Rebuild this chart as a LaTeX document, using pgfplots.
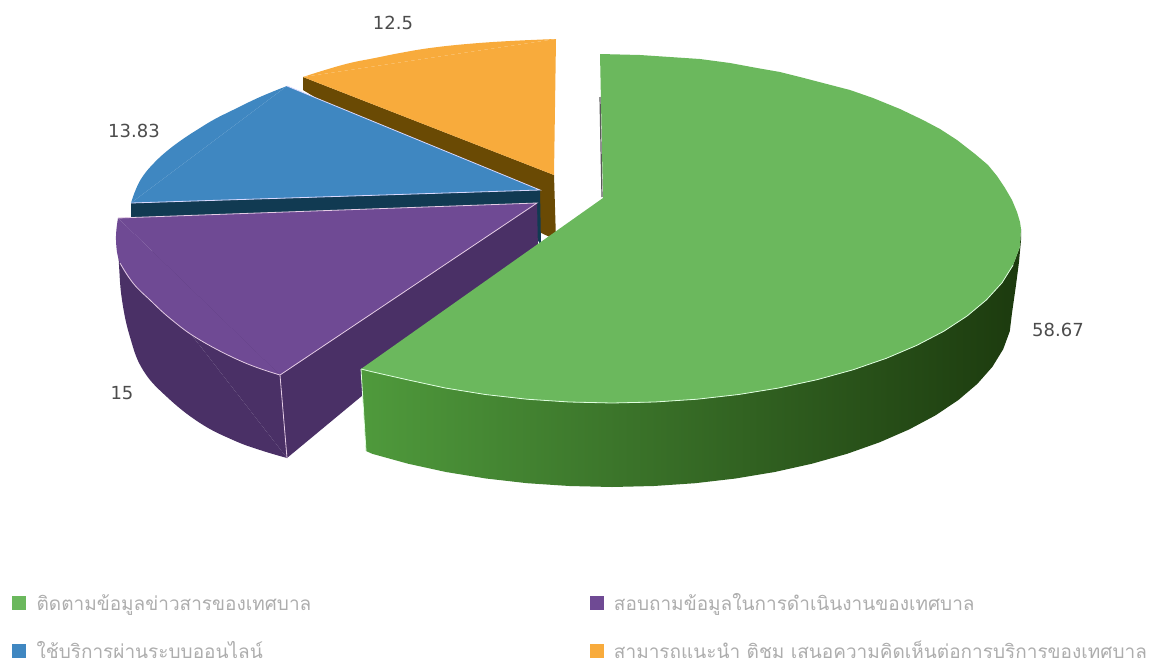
\documentclass[border=0pt]{standalone}
\usepackage{pgfplots}
\pgfplotsset{compat=1.18}
\usepackage{fontspec}
\setmainfont{DejaVu Sans}
\newfontfamily\thaifont[Script=Thai]{Loma}
\definecolor{gTop}{HTML}{6BB85D}
\definecolor{gL}{HTML}{4F9A3C}
\definecolor{gM}{HTML}{35692A}
\definecolor{gR}{HTML}{1C3A0E}
\definecolor{pTop}{HTML}{6F4A94}
\definecolor{pSide}{HTML}{4A3066}
\definecolor{bTop}{HTML}{3F87C1}
\definecolor{bSide}{HTML}{113A52}
\definecolor{oTop}{HTML}{F8AB3C}
\definecolor{oSide}{HTML}{6A4A04}
\begin{document}
\begin{tikzpicture}
\begin{axis}[
  scale only axis, width=1152pt, height=665pt,
  xmin=0, xmax=1152, ymin=0, ymax=665, y dir=reverse,
  hide axis, clip=false, no markers,
  legend columns=2,
  legend cell align=left,
  legend style={at={(axis cs:12,627)}, anchor=west, draw=none, fill=none,
    font=\fontsize{19}{21}\selectfont\thaifont\color{black!32},
    row sep=25pt, column sep=0pt, inner sep=0pt,
    /tikz/column 1/.style={column sep=9pt},
    /tikz/column 3/.style={column sep=9pt}},
  legend image code/.code={\fill[#1] (0pt,-6.5pt) rectangle (13pt,6.5pt);},
]
\path (axis cs:0,0) rectangle (axis cs:1152,665);
% orange
\addplot[draw=none, fill=oSide, forget plot] coordinates {(303,77)(554,175)(556,240)(535,230)(303,90)} --cycle;
\addplot[draw=none, fill=oTop, forget plot] coordinates {(556,39)(303,77)(554,175)} --cycle;
\addplot[draw=none, fill=oTop, forget plot, smooth, tension=0.7] coordinates {(556,39)(510,41)(467,44)(430,48)(400,53)(375,58)(350,63)(325,70)(303,77)};
% blue
\addplot[draw=none, fill=bSide, forget plot] coordinates {(131,203)(540,190)(541,246)(520,207)(131,218)} --cycle;
\addplot[draw=none, fill=bTop, forget plot] coordinates {(287,86)(131,203)(540,190)} --cycle;
\addplot[draw=none, fill=bTop, forget plot, smooth, tension=0.7] coordinates {(287,86)(260,97)(233,110)(215,119)(200,128)(183,139)(167,151)(154,163)(143,176)(136,189)(131,203)};
\addplot[color=blue!15!white, line width=0.8pt, forget plot] coordinates {(287,86)(540,190)(131,203)};
% purple
\addplot[draw=none, fill=pSide, forget plot] coordinates {(280,375)(287,458)(538,250)(537,203)} --cycle;
\addplot[draw=none, fill=pSide, forget plot] coordinates {(118,240)(287,458)(280,375)(300,300)} --cycle;
\addplot[draw=none, fill=pSide, forget plot, smooth, tension=0.7] coordinates {(118,240)(119,265)(122,300)(130,337)(143,370)(167,397)(200,423)(233,440)(260,450)(287,458)};
\addplot[draw=none, fill=pTop, forget plot] coordinates {(118,218)(280,375)(537,203)} --cycle;
\addplot[draw=none, fill=pTop, forget plot, smooth, tension=0.7] coordinates {(118,218)(116,240)(120,263)(133,283)(150,300)(172,320)(200,340)(243,362)(280,375)};
\addplot[color=violet!20!white, line width=0.8pt, forget plot] coordinates {(118,218)(537,203)(280,375)};
\addplot[color=violet!20!white, line width=0.8pt, forget plot, smooth, tension=0.7] coordinates {(120,263)(133,283)(150,300)(172,320)(200,340)(243,362)(280,375)};
\addplot[color=violet!20!white, line width=0.8pt, forget plot] coordinates {(280,375)(287,458)};
% green
\addplot[draw=none, left color=gL, middle color=gM, right color=gR, forget plot] coordinates {(1021,229)(1021,240)(1019,262)(1016,285)(1012,313)(1009.8,331.2)(1003.2,349.2)(992.4,366.8)(977.4,383.8)(958.4,400)(935.6,415.3)(909.2,429.4)(879.6,442.3)(847.1,453.8)(812,463.7)(774.7,472)(735.6,478.5)(695.2,483.2)(653.8,486)(612,487)(569.4,486)(527.2,483.2)(486,478.5)(446,472)(408,463.7)(372.2,453.8)(366,451)(361,369)(371,369.8)(407,379.7)(445.3,388)(485.3,394.5)(526.8,399.2)(569.2,402)(612,403)(654.8,402)(697.2,399.2)(738.7,394.5)(778.7,388)(817,379.7)(853,369.8)(886.3,358.3)(916.7,345.4)(943.7,331.3)(967.1,316)(986.5,299.8)(1002,282.8)(1013,265.2)(1019.8,247.2)} --cycle;
\addplot[draw=none, fill=gTop, forget plot] coordinates {(600,54)(640,55)(670,57)(700,59)(730,63)(757,68)(780,72)(800,77)(823,83)(850,90)(873,98)(900,109)(923,120)(940,129)(957,140)(975,154)(988,165)(997,176)(1005,188)(1012,200)(1017,212)(1020,222)(1021,229)(1019.8,247.2)(1013,265.2)(1002,282.8)(986.5,299.8)(967.1,316)(943.7,331.3)(916.7,345.4)(886.3,358.3)(853,369.8)(817,379.7)(778.7,388)(738.7,394.5)(697.2,399.2)(654.8,402)(612,403)(569.2,402)(526.8,399.2)(485.3,394.5)(445.3,388)(407,379.7)(371,371.5)(361,369)(603,198)} --cycle;
\addplot[color=green!12!white, line width=0.8pt, forget plot] coordinates {(1013,265.2)(1002,282.8)(986.5,299.8)(967.1,316)(943.7,331.3)(916.7,345.4)(886.3,358.3)(853,369.8)(817,379.7)(778.7,388)(738.7,394.5)(697.2,399.2)(654.8,402)(612,403)(569.2,402)(526.8,399.2)(485.3,394.5)(445.3,388)(407,379.7)(371,371.5)(361,369)};
\addplot[color=green!12!white, line width=0.8pt, forget plot] coordinates {(361,369)(366,451)};
\addplot[color=black!65, line width=1.2pt, forget plot] coordinates {(600,97)(602,197)};
% legend
\addlegendimage{gTop}
\addlegendentry{\makebox[551pt][l]{ติดตามข้อมูลข่าวสารของเทศบาล}}
\addlegendimage{pTop}
\addlegendentry{สอบถามข้อมูลในการดำเนินงานของเทศบาล}
\addlegendimage{bTop}
\addlegendentry{\makebox[551pt][l]{ใช้บริการผ่านระบบออนไลน์}}
\addlegendimage{oTop}
\addlegendentry{สามารถแนะนำ ติชม เสนอความคิดเห็นต่อการบริการของเทศบาล}
% labels
\node[text=black!70, font=\fontsize{18}{20}\selectfont] at (axis cs:393,23) {12.5};
\node[text=black!70, font=\fontsize{18}{20}\selectfont] at (axis cs:134,131) {13.83};
\node[text=black!70, font=\fontsize{18}{20}\selectfont] at (axis cs:122,393) {15};
\node[text=black!70, font=\fontsize{18}{20}\selectfont] at (axis cs:1058,330) {58.67};
\end{axis}
\end{tikzpicture}
\end{document}
